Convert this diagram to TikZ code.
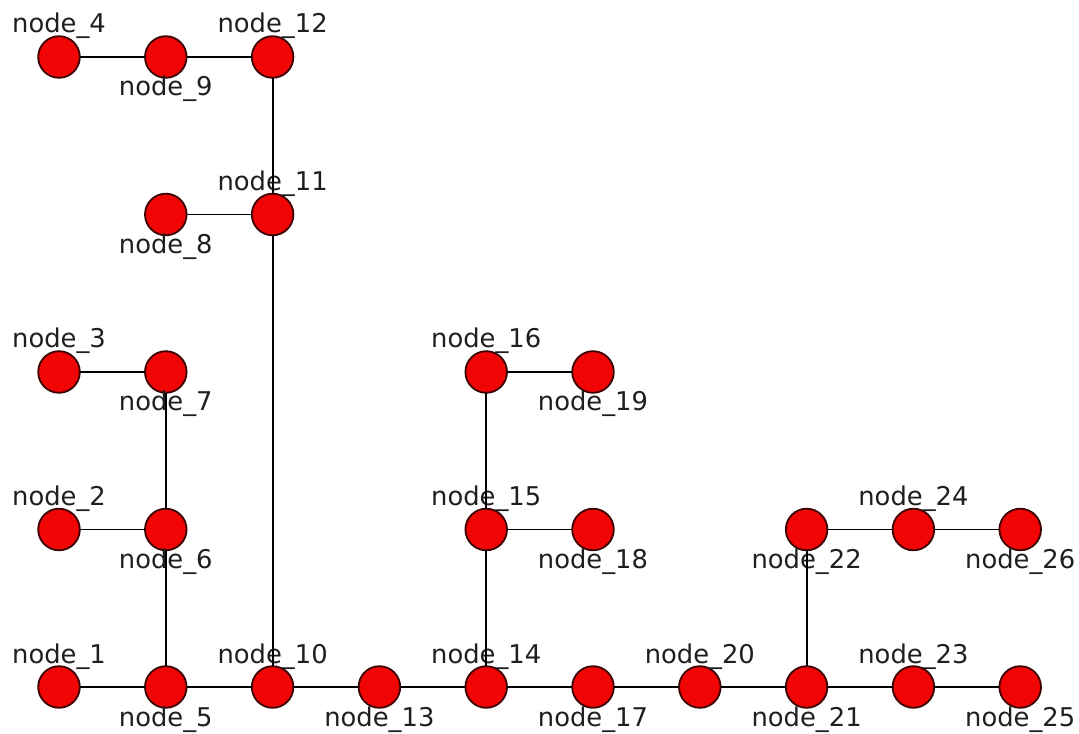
\documentclass[tikz,border=0pt]{standalone}
\usepackage{fontspec}
\setmainfont{DejaVu Sans}
\usetikzlibrary{positioning}
\definecolor{nodered}{RGB}{240,4,4}
\definecolor{rim}{RGB}{60,0,0}

\begin{document}
\begin{tikzpicture}[
  on grid, node distance=78.75pt and 53.4pt,
  vert/.style={circle,draw=rim,fill=nodered,line width=0.9pt,minimum size=20.8pt,inner sep=0pt,outer sep=0pt},
  lab/.style={font=\fontsize{12.9}{15}\selectfont,anchor=base,text=black!88},
  up/.style={vert,label={[lab,label distance=1.6pt]90:#1}},
  dn/.style={vert,label={[lab,label distance=9.1pt]270:#1}},
  link/.style={line width=0.9pt}
]
\useasboundingbox (-29.5pt,-23pt) rectangle (510pt,343.5pt);
% bottom row
\node[up=node\_1] (n1) at (0,0) {};
\node[dn=node\_5, right=of n1] (n5) {};
\node[up=node\_10, right=of n5] (n10) {};
\node[dn=node\_13, right=of n10] (n13) {};
\node[up=node\_14, right=of n13] (n14) {};
\node[dn=node\_17, right=of n14] (n17) {};
\node[up=node\_20, right=of n17] (n20) {};
\node[dn=node\_21, right=of n20] (n21) {};
\node[up=node\_23, right=of n21] (n23) {};
\node[dn=node\_25, right=of n23] (n25) {};
% left branch
\node[dn=node\_6, above=of n5] (n6) {};
\node[up=node\_2, left=of n6] (n2) {};
\node[dn=node\_7, above=of n6] (n7) {};
\node[up=node\_3, left=of n7] (n3) {};
\node[dn=node\_8, above=of n7] (n8) {};
\node[up=node\_11, right=of n8] (n11) {};
\node[dn=node\_9, above=of n8] (n9) {};
\node[up=node\_4, left=of n9] (n4) {};
\node[up=node\_12, right=of n9] (n12) {};
% middle branch
\node[up=node\_15, above=of n14] (n15) {};
\node[dn=node\_18, right=of n15] (n18) {};
\node[up=node\_16, above=of n15] (n16) {};
\node[dn=node\_19, right=of n16] (n19) {};
% right branch
\node[dn=node\_22, above=of n21] (n22) {};
\node[up=node\_24, right=of n22] (n24) {};
\node[dn=node\_26, right=of n24] (n26) {};

\draw[link] (n1) -- (n5) -- (n10) -- (n13) -- (n14) -- (n17) -- (n20) -- (n21) -- (n23) -- (n25);
\draw[link] (n2) -- (n6);
\draw[link] (n3) -- (n7);
\draw[link] (n5) -- (n6) -- (n7);
\draw[link] (n10) -- (n11) -- (n12);
\draw[link] (n8) -- (n11);
\draw[link] (n4) -- (n9) -- (n12);
\draw[link] (n14) -- (n15) -- (n16);
\draw[link] (n15) -- (n18);
\draw[link] (n16) -- (n19);
\draw[link] (n21) -- (n22) -- (n24) -- (n26);
\end{tikzpicture}
\end{document}
